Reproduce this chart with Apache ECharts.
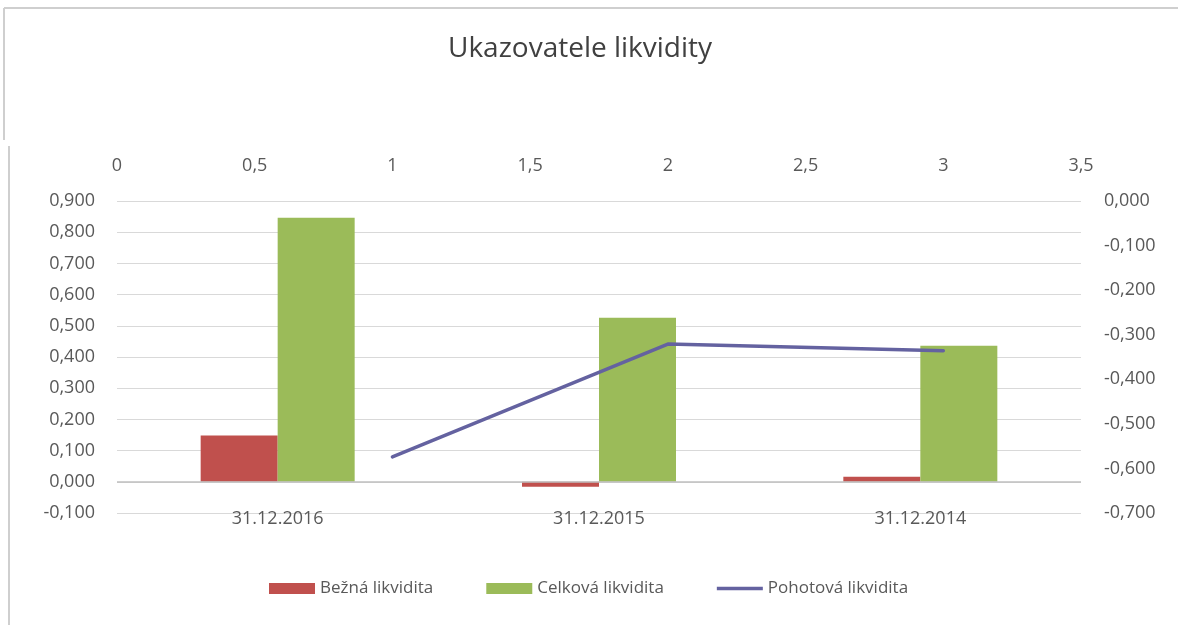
<!DOCTYPE html>
<html>
<head>
<meta charset="utf-8">
<script src="https://cdn.jsdelivr.net/npm/echarts@6/dist/echarts.min.js"></script>
<style>
  html, body { margin: 0; padding: 0; background: #fff; }
  #main { width: 1178px; height: 625px; }
</style>
</head>
<body>
<div id="main"></div>
<script>
var chart = echarts.init(document.getElementById('main'));

// data
var categories = ['31.12.2016', '31.12.2015', '31.12.2014'];
var beznaValues = [0.148, -0.016, 0.016];
var celkovaValues = [0.846, 0.526, 0.436];
// pohotova is drawn on the top value axis (x) and the right axis (y)
var pohotovaX = [1, 2, 3];
var pohotovaY = [-0.574, -0.321, -0.336];

var textColor = '#595959';
var gridColor = '#D9D9D9';
var fontFam = '"Open Sans", sans-serif';

function comma3(v) {
    return v.toFixed(3).replace('.', ',');
}

var pohotovaData = pohotovaX.map(function (x, i) {
    return [x, pohotovaY[i]];
});

var option = {
    backgroundColor: '#FFFFFF',
    textStyle: { fontFamily: fontFam },
    title: {
        text: 'Ukazovatele likvidity',
        left: 448,
        top: 35,
        padding: 0,
        textStyle: {
            fontFamily: fontFam,
            fontSize: 28,
            fontWeight: 'normal',
            color: '#404040'
        }
    },
    legend: {
        left: 264,
        top: 575,
        itemWidth: 46,
        itemHeight: 11,
        itemGap: 53,
        textStyle: { fontSize: 17, color: textColor, fontFamily: fontFam },
        data: [
            { name: 'Bežná likvidita', icon: 'rect' },
            { name: 'Celková likvidita', icon: 'rect' },
            { name: 'Pohotová likvidita', icon: 'path://M0,0 L46,0 L46,3.5 L0,3.5 Z' }
        ]
    },
    graphic: [
        { type: 'line', shape: { x1: 4, y1: 8, x2: 1178, y2: 8 }, style: { stroke: '#CFCFCF', lineWidth: 2 } },
        { type: 'line', shape: { x1: 4, y1: 8, x2: 4, y2: 140 }, style: { stroke: '#CFCFCF', lineWidth: 2 } },
        { type: 'line', shape: { x1: 9, y1: 146, x2: 9, y2: 625 }, style: { stroke: '#CFCFCF', lineWidth: 2 } }
    ],
    grid: {
        left: 117,
        right: 97,
        top: 201,
        height: 312
    },
    xAxis: [{
        type: 'category',
        position: 'bottom',
        data: categories,
        axisLine: { show: false },
        axisTick: { show: false },
        axisLabel: { margin: -3, fontSize: 18, color: textColor }
    }, {
        type: 'value',
        position: 'top',
        min: 0,
        max: 3.5,
        interval: 0.5,
        axisLine: { show: false },
        axisTick: { show: false },
        splitLine: { show: false },
        axisLabel: {
            margin: 26,
            fontSize: 18,
            color: textColor,
            formatter: function (v) { return String(v).replace('.', ','); }
        }
    }],
    yAxis: [{
        type: 'value',
        position: 'left',
        min: -0.1,
        max: 0.9,
        interval: 0.1,
        axisLine: { show: false },
        axisTick: { show: false },
        splitLine: { lineStyle: { color: gridColor, width: 1 } },
        axisLabel: { margin: 22, fontSize: 18, color: textColor, formatter: comma3 }
    }, {
        type: 'value',
        position: 'right',
        min: -0.7,
        max: 0,
        interval: 0.1,
        axisLine: { show: false },
        axisTick: { show: false },
        splitLine: { show: false },
        axisLabel: { margin: 23, fontSize: 18, color: textColor, formatter: comma3 }
    }],
    series: [{
        name: 'Bežná likvidita',
        type: 'bar',
        xAxisIndex: 0,
        yAxisIndex: 0,
        data: beznaValues,
        barWidth: 77,
        barGap: '0%',
        itemStyle: { color: '#C0504D' },
        markLine: {
            silent: true,
            symbol: 'none',
            label: { show: false },
            lineStyle: { color: '#BFBFBF', type: 'solid', width: 1.5 },
            data: [{ yAxis: 0 }]
        }
    }, {
        name: 'Celková likvidita',
        type: 'bar',
        xAxisIndex: 0,
        yAxisIndex: 0,
        data: celkovaValues,
        barWidth: 77,
        itemStyle: { color: '#9BBB59' }
    }, {
        name: 'Pohotová likvidita',
        type: 'line',
        xAxisIndex: 1,
        yAxisIndex: 1,
        data: pohotovaData,
        symbol: 'none',
        lineStyle: { color: '#6462A0', width: 3.5, cap: 'round' },
        itemStyle: { color: '#6462A0' }
    }]
};

chart.setOption(option);
window.addEventListener('resize', function () {
    chart.resize();
});
</script>
</body>
</html>
